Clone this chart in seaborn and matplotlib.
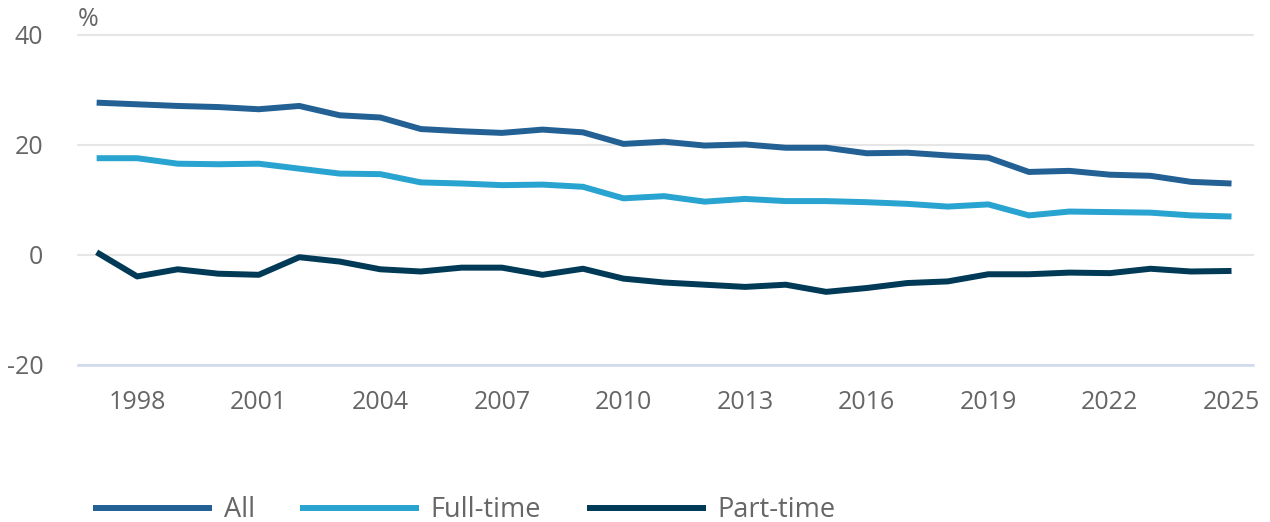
import pandas as pd
import numpy as np
import matplotlib.pyplot as plt
import seaborn as sns

# %%
# Data

years = list(range(1997, 2026))
all_workers = [27.7, 27.4, 27.1, 26.9, 26.5, 27.1, 25.4, 25.0, 22.9, 22.5, 22.2,
               22.8, 22.3, 20.2, 20.6, 19.9, 20.1, 19.5, 19.5, 18.5, 18.6, 18.1,
               17.7, 15.1, 15.3, 14.6, 14.4, 13.3, 13.0]
full_time = [17.6, 17.6, 16.6, 16.5, 16.6, 15.7, 14.8, 14.7, 13.2, 13.0, 12.7,
             12.8, 12.4, 10.3, 10.7, 9.7, 10.2, 9.8, 9.8, 9.6, 9.3, 8.8,
             9.2, 7.2, 7.9, 7.8, 7.7, 7.2, 7.0]
part_time = [0.5, -3.9, -2.6, -3.4, -3.6, -0.4, -1.2, -2.6, -3.0, -2.3, -2.3,
             -3.6, -2.5, -4.3, -5.0, -5.4, -5.8, -5.4, -6.7, -6.0, -5.1, -4.8,
             -3.5, -3.5, -3.2, -3.3, -2.5, -3.0, -2.9]
series_names = ["All", "Full-time", "Part-time"]
colors = ["#236094", "#29a3cf", "#003a57"]
x_ticks = list(range(1998, 2026, 3))
y_ticks = [-20, 0, 20, 40]

df = pd.DataFrame({
    "Year": years * 3,
    "Value": all_workers + full_time + part_time,
    "Series": np.repeat(series_names, len(years)),
})

# %%
# Plot

sns.set_style("white")
plt.rcParams["font.family"] = ["Open Sans", "DejaVu Sans"]
plt.rcParams["axes.unicode_minus"] = False
text_color = "#666666"

fig = plt.figure(figsize=(12.7, 5.22), dpi=100)
ax = fig.add_axes([78 / 1270, 1 - 365 / 522, (1253 - 78) / 1270, 330 / 522])

sns.lineplot(data=df, x="Year", y="Value", hue="Series", palette=colors,
             linewidth=4.3, solid_capstyle="butt", ax=ax, legend=False)

ax.set_xlim(1996.54, 2025.53)
ax.set_ylim(-20, 40)
ax.set_xticks(x_ticks)
ax.set_yticks(y_ticks)
ax.set_xlabel("")
ax.set_ylabel("")

ax.grid(axis="y", color="#e6e6e6", linewidth=1.5)
for gl in ax.get_ygridlines():
    gl.set_clip_on(False)
ax.set_axisbelow(True)

for side in ["top", "right", "left"]:
    ax.spines[side].set_visible(False)
ax.spines["bottom"].set_color("#cfdaee")
ax.spines["bottom"].set_linewidth(1.8)

ax.tick_params(axis="x", length=15, width=1.5, color="#cfdaee", pad=3,
               labelsize=18, labelcolor=text_color)
ax.tick_params(axis="y", length=0, pad=25, labelsize=18, labelcolor=text_color)

fig.text(78 / 1270, 1 - 20 / 522, "%", ha="left", va="center",
         fontsize=18, color=text_color)

handles = [plt.Line2D([], [], color=c, linewidth=4.3, solid_capstyle="butt")
           for c in colors]
leg = fig.legend(handles, series_names, loc="center left",
                 bbox_to_anchor=(93 / 1270, 1 - 510 / 522), ncol=3,
                 frameon=False, fontsize=19.5, handlelength=4.4,
                 handletextpad=0.42, columnspacing=1.68, borderpad=0,
                 borderaxespad=0)
for t in leg.get_texts():
    t.set_color(text_color)

fig.savefig("out.png", dpi=100)
